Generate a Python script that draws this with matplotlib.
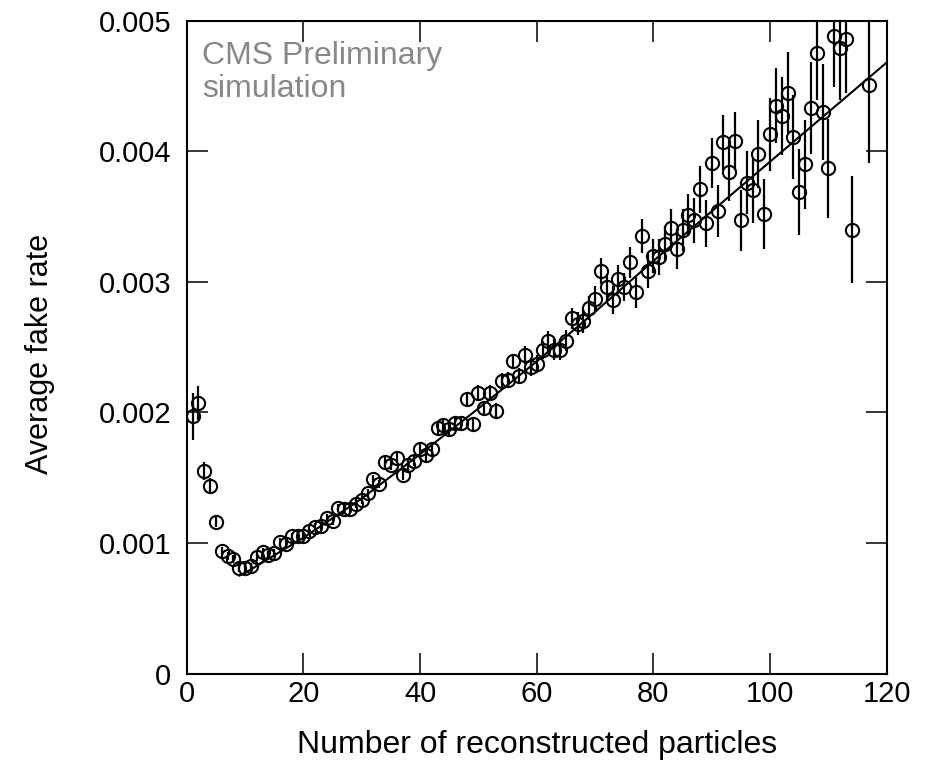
import matplotlib
matplotlib.use("Agg")
import matplotlib.pyplot as plt

plt.rcParams['font.family'] = ['Liberation Sans', 'DejaVu Sans']

# Number of reconstructed particles
n_particles = list(range(1, 115)) + [117]

fake_rate = [
    0.00197, 0.00207, 0.00155, 0.00144, 0.00116, 0.00094, 0.00090, 0.00088, 0.00081, 0.00081,
    0.00082, 0.00089, 0.00093, 0.00091, 0.00092, 0.00101, 0.00099, 0.00105, 0.00105, 0.00105,
    0.00109, 0.00112, 0.00113, 0.00119, 0.00117, 0.00127, 0.00126, 0.00126, 0.00130, 0.00133,
    0.00138, 0.00149, 0.00145, 0.00162, 0.00160, 0.00165, 0.00152, 0.00160, 0.00163, 0.00172,
    0.00167, 0.00172, 0.00188, 0.00190, 0.00187, 0.00192, 0.00192, 0.00210, 0.00191, 0.00215,
    0.00203, 0.00215, 0.00201, 0.00224, 0.00225, 0.00239, 0.00228, 0.00244, 0.00235, 0.00237,
    0.00248, 0.00255, 0.00248, 0.00248, 0.00255, 0.00272, 0.00268, 0.00270, 0.00280, 0.00287,
    0.00308, 0.00296, 0.00286, 0.00302, 0.00296, 0.00315, 0.00292, 0.00335, 0.00308, 0.00320,
    0.00319, 0.00329, 0.00341, 0.00325, 0.00340, 0.00351, 0.00347, 0.00371, 0.00345, 0.00391,
    0.00354, 0.00407, 0.00384, 0.00408, 0.00347, 0.00376, 0.00370, 0.00398, 0.00352, 0.00413,
    0.00435, 0.00427, 0.00445, 0.00411, 0.00369, 0.00390, 0.00433, 0.00475, 0.00430, 0.00387,
    0.00488, 0.00479, 0.00486, 0.00340, 0.00451,
]

fake_rate_err = [
    0.00018, 0.00013, 0.00007, 0.00006, 0.00004, 0.00003, 0.00003, 0.00003, 0.00003, 0.00003,
    0.00003, 0.00003, 0.00003, 0.00003, 0.00003, 0.00003, 0.00003, 0.00003, 0.00003, 0.00003,
    0.00003, 0.00003, 0.00003, 0.00003, 0.00003, 0.00003, 0.00003, 0.00003, 0.00003, 0.00003,
    0.00003, 0.00003, 0.00003, 0.00004, 0.00004, 0.00004, 0.00004, 0.00004, 0.00004, 0.00004,
    0.00005, 0.00005, 0.00005, 0.00005, 0.00005, 0.00005, 0.00005, 0.00005, 0.00005, 0.00006,
    0.00006, 0.00006, 0.00006, 0.00006, 0.00006, 0.00006, 0.00006, 0.00007, 0.00007, 0.00007,
    0.00007, 0.00007, 0.00008, 0.00008, 0.00008, 0.00008, 0.00009, 0.00009, 0.00009, 0.00010,
    0.00010, 0.00010, 0.00011, 0.00011, 0.00011, 0.00012, 0.00012, 0.00013, 0.00013, 0.00013,
    0.00014, 0.00014, 0.00015, 0.00015, 0.00016, 0.00016, 0.00017, 0.00018, 0.00018, 0.00019,
    0.00020, 0.00021, 0.00022, 0.00022, 0.00023, 0.00024, 0.00025, 0.00026, 0.00027, 0.00028,
    0.00029, 0.00030, 0.00031, 0.00032, 0.00033, 0.00034, 0.00035, 0.00036, 0.00037, 0.00038,
    0.00039, 0.00040, 0.00041, 0.00041, 0.00060,
]

# Fit curve knots
fit_x = [9, 10, 20, 30, 40, 50, 60, 70, 80, 90, 100, 110, 120]
fit_y = [0.00075, 0.00077, 0.00104, 0.00134, 0.00168, 0.00203, 0.00239, 0.00277,
         0.00316, 0.00354, 0.00392, 0.00430, 0.00468]

x_ticks = [0, 20, 40, 60, 80, 100, 120]
y_ticks = [0, 0.001, 0.002, 0.003, 0.004, 0.005]
y_tick_labels = ["0", "0.001", "0.002", "0.003", "0.004", "0.005"]

fig = plt.figure(figsize=(9.36, 7.73), dpi=100)
ax = fig.add_axes([0.1995, 0.1287, 0.7478, 0.8445])

ax.plot(fit_x, fit_y, color='black', lw=1.5, zorder=2)
ax.errorbar(n_particles, fake_rate, yerr=fake_rate_err, fmt='o', mfc='none', mec='black',
            ms=9.5, mew=1.5, ecolor='black', elinewidth=1.6, capsize=0, zorder=3)

ax.set_xlim(0, 120)
ax.set_ylim(0, 0.005)
ax.set_xticks(x_ticks)
ax.set_xticklabels([str(t) for t in x_ticks])
ax.set_yticks(y_ticks)
ax.set_yticklabels(y_tick_labels)
ax.tick_params(direction='in', length=15, width=1.1, top=True, right=True, labelsize=21)
ax.tick_params(axis='x', pad=5)
ax.tick_params(axis='y', pad=11)
for s in ax.spines.values():
    s.set_linewidth(1.5)

ax.set_xlabel("Number of reconstructed particles", fontsize=23, va='center')
ax.xaxis.set_label_coords(0.5, -0.1095)
ax.set_ylabel("Average fake rate", fontsize=22, va='center')
ax.yaxis.set_label_coords(-0.2094, 0.49)

ax.text(0.022, 0.9337, "CMS Preliminary", transform=ax.transAxes,
        ha='left', va='baseline', fontsize=23, color='#888888')
ax.text(0.022, 0.8836, "simulation", transform=ax.transAxes,
        ha='left', va='baseline', fontsize=23, color='#888888')

fig.savefig("out.png", dpi=100)
